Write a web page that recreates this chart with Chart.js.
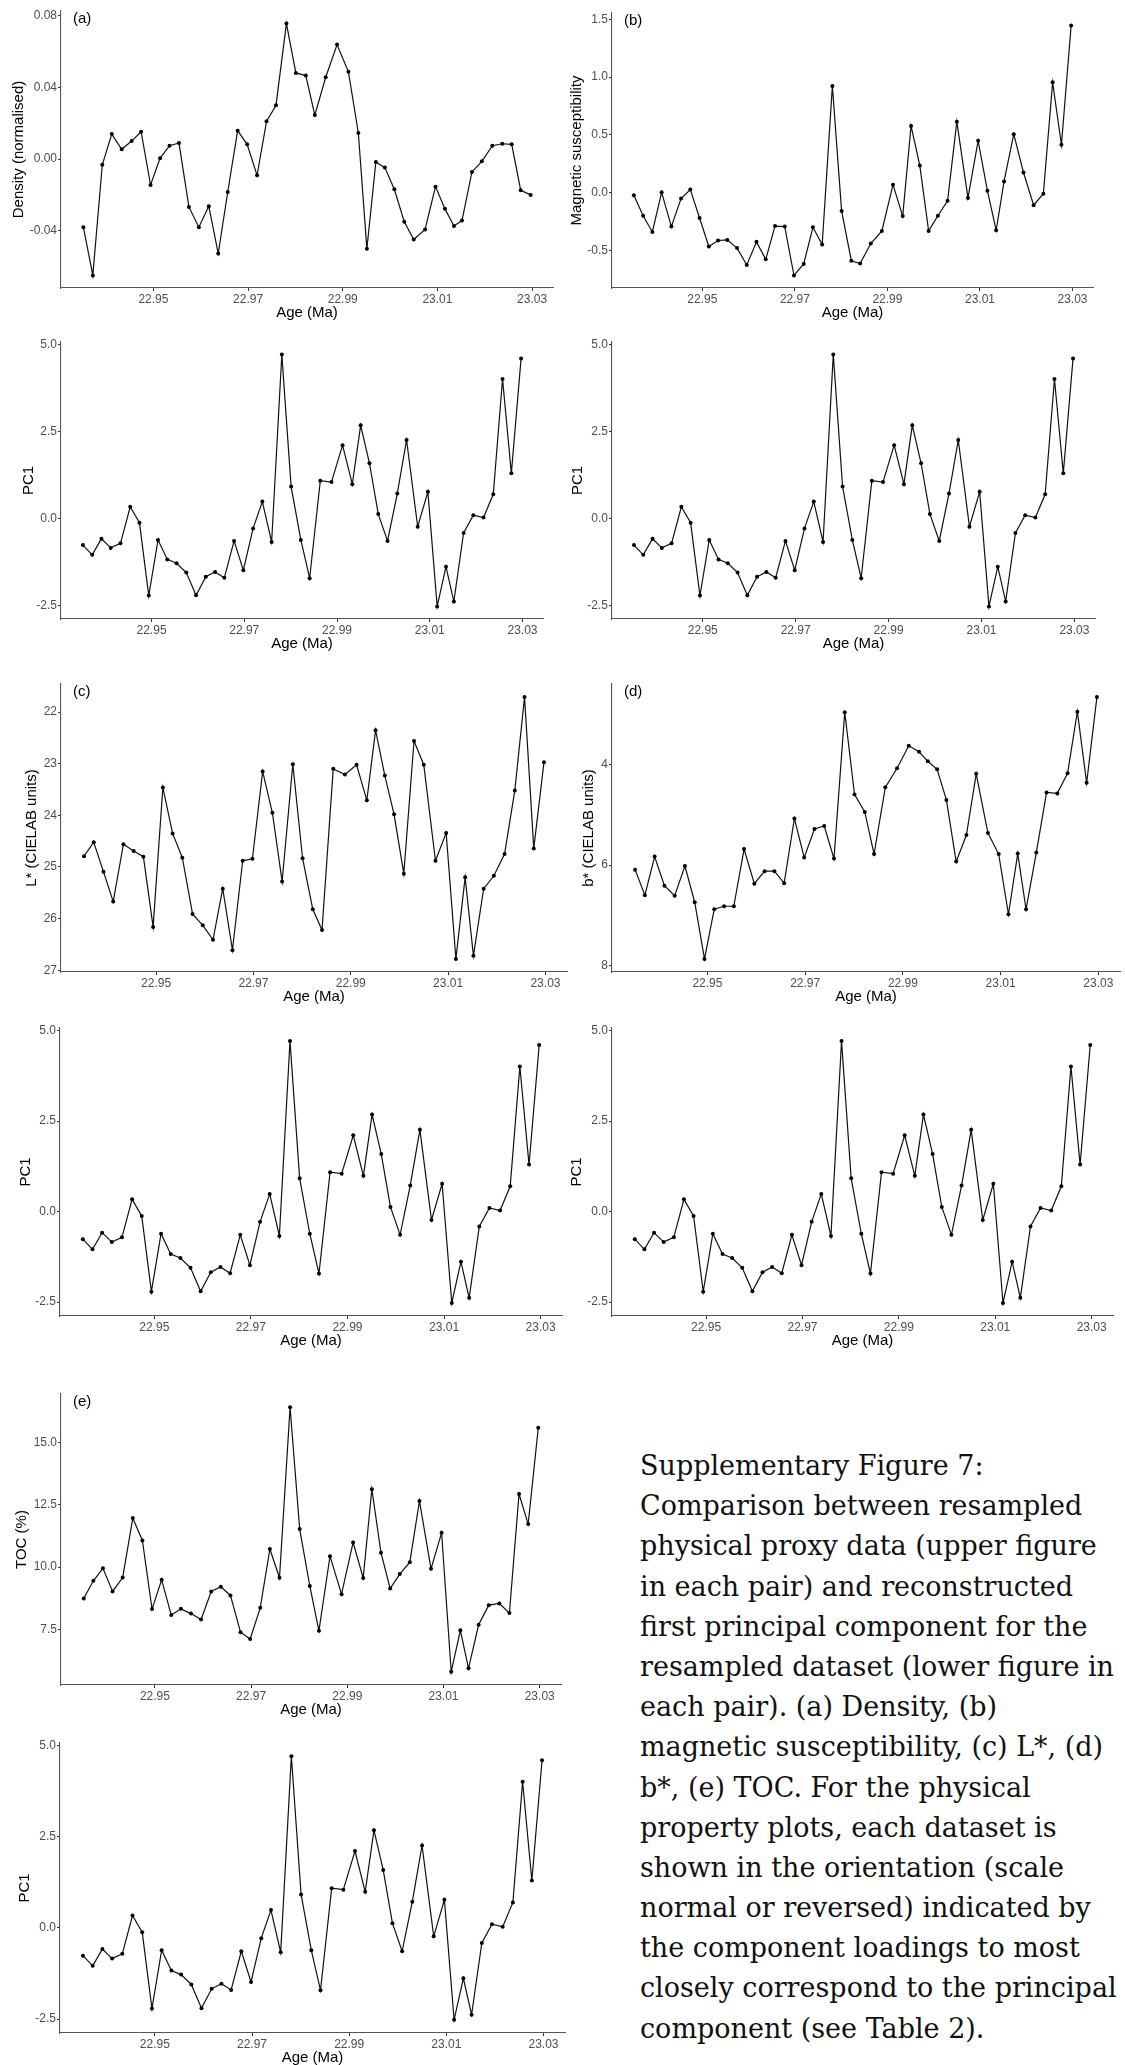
<!DOCTYPE html>
<html>
<head>
<meta charset="utf-8">
<script src="https://cdn.jsdelivr.net/npm/chart.js@4/dist/chart.umd.min.js"></script>
<style>
  html, body { margin: 0; padding: 0; background: #fff; width: 1125px; height: 2065px; overflow: hidden; position: relative; }
  canvas { position: absolute; }
  #caption { position: absolute; left: 640px; top: 1446px; font-family: 'DejaVu Serif', serif; font-size: 27px; line-height: 40.2px; color: #111; white-space: nowrap; }
  #caption div { height: 40.2px; }
</style>
</head>
<body>
<div id="caption">
  <div>Supplementary Figure 7:</div>
  <div>Comparison between resampled</div>
  <div>physical proxy data (upper figure</div>
  <div>in each pair) and reconstructed</div>
  <div>first principal component for the</div>
  <div>resampled dataset (lower figure in</div>
  <div>each pair). (a) Density, (b)</div>
  <div>magnetic susceptibility, (c) L*, (d)</div>
  <div>b*, (e) TOC. For the physical</div>
  <div>property plots, each dataset is</div>
  <div>shown in the orientation (scale</div>
  <div>normal or reversed) indicated by</div>
  <div>the component loadings to most</div>
  <div>closely correspond to the principal</div>
  <div>component (see Table 2).</div>
</div>
<script>
// Sample ages (Ma)
const ages = [22.9352, 22.9372, 22.9392, 22.9412, 22.9433, 22.9454, 22.9474, 22.9494, 22.9514, 22.9534,
  22.9554, 22.9575, 22.9596, 22.9617, 22.9637, 22.9657, 22.9678, 22.9698, 22.9719, 22.9739,
  22.9759, 22.9781, 22.9801, 22.9822, 22.9841, 22.9864, 22.9888, 22.9912, 22.9933, 22.9951,
  22.9970, 22.9989, 23.0009, 23.0030, 23.0050, 23.0074, 23.0096, 23.0116, 23.0135, 23.0152,
  23.0173, 23.0194, 23.0216, 23.0237, 23.0257, 23.0276, 23.0297];

// (a) Density (normalised)
const density = [-0.0380, -0.0649, -0.0032, 0.0139, 0.0054, 0.0100, 0.0152, -0.0145, 0.0004, 0.0074,
  0.0089, -0.0267, -0.0380, -0.0263, -0.0527, -0.0184, 0.0158, 0.0082, -0.0091, 0.0210,
  0.0300, 0.0755, 0.0480, 0.0465, 0.0245, 0.0456, 0.0638, 0.0486, 0.0145, -0.0501,
  -0.0017, -0.0048, -0.0169, -0.0350, -0.0449, -0.0393, -0.0154, -0.0278, -0.0373, -0.0343,
  -0.0072, -0.0013, 0.0074, 0.0085, 0.0082, -0.0174, -0.0200];

// (b) Magnetic susceptibility
const magSus = [-0.023, -0.200, -0.340, 0.003, -0.294, -0.051, 0.026, -0.220, -0.466, -0.414,
  -0.409, -0.480, -0.626, -0.426, -0.577, -0.289, -0.294, -0.717, -0.617, -0.300,
  -0.449, 0.923, -0.160, -0.589, -0.614, -0.440, -0.331, 0.069, -0.203, 0.577,
  0.234, -0.331, -0.200, -0.071, 0.614, -0.046, 0.449, 0.017, -0.326, 0.097,
  0.506, 0.174, -0.109, -0.009, 0.954, 0.414, 1.446];

// (c) L* (CIELAB units)
const lightness = [24.79, 24.52, 25.09, 25.67, 24.56, 24.69, 24.80, 26.16, 23.46, 24.35,
  24.82, 25.91, 26.13, 26.41, 25.42, 26.61, 24.88, 24.84, 23.15, 23.95,
  25.28, 23.01, 24.83, 25.82, 26.22, 23.10, 23.21, 23.02, 23.71, 22.35,
  23.23, 23.98, 25.13, 22.56, 23.02, 24.88, 24.34, 26.78, 25.20, 26.72,
  25.42, 25.17, 24.75, 23.52, 21.71, 24.64, 22.97];

// (d) b* (CIELAB units)
const bStar = [6.09, 6.60, 5.83, 6.41, 6.61, 6.02, 6.74, 7.87, 6.88, 6.82,
  6.82, 5.68, 6.37, 6.12, 6.12, 6.36, 5.07, 5.85, 5.28, 5.22,
  5.87, 2.95, 4.59, 4.94, 5.78, 4.45, 4.07, 3.62, 3.74, 3.93,
  4.09, 4.70, 5.93, 5.40, 4.18, 5.36, 5.78, 6.98, 5.77, 6.88,
  5.75, 4.55, 4.57, 4.17, 2.94, 4.36, 2.65];

// (e) TOC (%)
const toc = [8.74, 9.45, 9.95, 9.02, 9.58, 11.97, 11.07, 8.31, 9.49, 8.07,
  8.32, 8.13, 7.89, 9.02, 9.21, 8.86, 7.38, 7.11, 8.36, 10.73,
  9.57, 16.43, 11.53, 9.24, 7.44, 10.44, 8.91, 10.99, 9.56, 13.13,
  10.58, 9.14, 9.72, 10.20, 12.66, 9.93, 11.38, 5.79, 7.46, 5.93,
  7.68, 8.47, 8.54, 8.15, 12.94, 11.73, 15.60];

// First principal component of the resampled dataset
const pc1 = [-0.76, -1.04, -0.58, -0.84, -0.71, 0.34, -0.12, -2.21, -0.61, -1.17,
  -1.28, -1.55, -2.20, -1.67, -1.53, -1.70, -0.64, -1.48, -0.28, 0.49,
  -0.67, 4.71, 0.92, -0.61, -1.71, 1.09, 1.05, 2.11, 0.99, 2.68,
  1.59, 0.13, -0.64, 0.72, 2.26, -0.23, 0.77, -2.52, -1.38, -2.38,
  -0.41, 0.10, 0.03, 0.70, 4.01, 1.30, 4.60];

// Tick values
const ageTicks = [22.95, 22.97, 22.99, 23.01, 23.03];
const densityTicks = [-0.04, 0, 0.04, 0.08];
const magSusTicks = [-0.5, 0, 0.5, 1.0, 1.5];
const lightnessTicks = [22, 23, 24, 25, 26, 27];
const bStarTicks = [4, 6, 8];
const tocTicks = [7.5, 10, 12.5, 15];
const pc1Ticks = [-2.5, 0, 2.5, 5.0];

// Panel layout: plot-area edges on the page (left, right, top, bottom),
// left edge of the column and the centre of the rotated y title.
const panels = [
  { y: density,   ticks: densityTicks,   dec: 2, title: 'Density (normalised)',   tag: '(a)', rev: false, L: 61,  R: 553,  T: 11,   B: 288,  col: 0,   titleX: 18.6 },
  { y: magSus,    ticks: magSusTicks,    dec: 1, title: 'Magnetic susceptibility', tag: '(b)', rev: false, L: 612, R: 1093, T: 13,   B: 288,  col: 560, titleX: 577.3 },
  { y: pc1,       ticks: pc1Ticks,       dec: 1, title: 'PC1',                    tag: '',    rev: false, L: 61,  R: 543,  T: 342,  B: 619,  col: 0,   titleX: 28.6 },
  { y: pc1,       ticks: pc1Ticks,       dec: 1, title: 'PC1',                    tag: '',    rev: false, L: 612, R: 1095, T: 342,  B: 619,  col: 560, titleX: 578 },
  { y: lightness, ticks: lightnessTicks, dec: 0, title: 'L* (CIELAB units)',      tag: '(c)', rev: true,  L: 61,  R: 567,  T: 684,  B: 972,  col: 0,   titleX: 32.1 },
  { y: bStar,     ticks: bStarTicks,     dec: 0, title: 'b* (CIELAB units)',      tag: '(d)', rev: true,  L: 612, R: 1120, T: 684,  B: 972,  col: 560, titleX: 588.8 },
  { y: pc1,       ticks: pc1Ticks,       dec: 1, title: 'PC1',                    tag: '',    rev: false, L: 60,  R: 562,  T: 1028, B: 1316, col: 0,   titleX: 25.7 },
  { y: pc1,       ticks: pc1Ticks,       dec: 1, title: 'PC1',                    tag: '',    rev: false, L: 612, R: 1113, T: 1028, B: 1316, col: 560, titleX: 577.3 },
  { y: toc,       ticks: tocTicks,       dec: 1, title: 'TOC (%)',                tag: '(e)', rev: false, L: 61,  R: 561,  T: 1394, B: 1685, col: 0,   titleX: 21.4 },
  { y: pc1,       ticks: pc1Ticks,       dec: 1, title: 'PC1',                    tag: '',    rev: false, L: 60,  R: 565,  T: 1743, B: 2033, col: 0,   titleX: 25 }
];

const PAD_TOP = 8, PAD_RIGHT = 12, X_BOX = 40;
const FONT = "'Liberation Sans', Arial, sans-serif";
const TICK_COLOR = '#4d4d4d';
const AXIS_COLOR = '#555';

// ggplot-style range: data extent widened by 5% on each side
function expanded(arr) {
  const lo = Math.min(...arr), hi = Math.max(...arr);
  const pad = (hi - lo) * 0.05;
  return { min: lo - pad, max: hi + pad };
}

const panelTag = {
  id: 'panelTag',
  afterDraw(chart, args, opts) {
    if (!opts.text) return;
    const { ctx, chartArea } = chart;
    ctx.save();
    ctx.font = '15px ' + FONT;
    ctx.fillStyle = '#000';
    ctx.textBaseline = 'middle';
    ctx.textAlign = 'left';
    ctx.fillText(opts.text, chartArea.left + 12, chartArea.top + 7.5);
    ctx.restore();
  }
};

const xr = expanded(ages);

panels.forEach(p => {
  const yw = p.L - p.col;
  const canvas = document.createElement('canvas');
  const w = p.R - p.col + PAD_RIGHT;
  const h = p.B - p.T + PAD_TOP + X_BOX;
  canvas.style.left = p.col + 'px';
  canvas.style.top = (p.T - PAD_TOP) + 'px';
  canvas.style.width = w + 'px';
  canvas.style.height = h + 'px';
  canvas.width = w; canvas.height = h;
  document.body.appendChild(canvas);

  const yr = expanded(p.y);
  const points = ages.map((a, i) => ({ x: a, y: p.y[i] }));

  new Chart(canvas, {
    type: 'line',
    data: {
      datasets: [{
        data: points,
        borderColor: '#111',
        borderWidth: 1.2,
        pointRadius: 2,
        pointBackgroundColor: '#000',
        pointBorderWidth: 0,
        tension: 0,
        fill: false
      }]
    },
    options: {
      responsive: false,
      animation: false,
      devicePixelRatio: 1,
      layout: { padding: { top: PAD_TOP, right: PAD_RIGHT, left: 0, bottom: 0 } },
      plugins: {
        legend: { display: false },
        tooltip: { enabled: false },
        panelTag: { text: p.tag }
      },
      scales: {
        x: {
          type: 'linear',
          min: xr.min,
          max: xr.max,
          afterBuildTicks: s => { s.ticks = ageTicks.map(v => ({ value: v })); },
          afterFit: s => { s.height = X_BOX; s.paddingLeft = 0; s.paddingRight = 0; },
          grid: { display: true, drawOnChartArea: false, drawTicks: true, tickLength: 3, color: '#333', lineWidth: 1 },
          border: { display: true, color: AXIS_COLOR, width: 1.1 },
          ticks: {
            autoSkip: false, maxRotation: 0, padding: 1,
            color: TICK_COLOR, font: { family: FONT, size: 12 },
            callback: v => v.toFixed(2)
          },
          title: {
            display: true, text: 'Age (Ma)', color: '#000',
            font: { family: FONT, size: 15 },
            padding: { top: 0, bottom: X_BOX - 25 - 9 }
          }
        },
        y: {
          type: 'linear',
          min: yr.min,
          max: yr.max,
          reverse: p.rev,
          afterBuildTicks: s => { s.ticks = p.ticks.map(v => ({ value: v })); },
          afterFit: s => { s.width = yw; s.paddingTop = 0; s.paddingBottom = 0; },
          grid: { display: true, drawOnChartArea: false, drawTicks: true, tickLength: 3, color: '#333', lineWidth: 1 },
          border: { display: true, color: AXIS_COLOR, width: 1.1 },
          ticks: {
            autoSkip: false, padding: 1,
            color: TICK_COLOR, font: { family: FONT, size: 12 },
            callback: v => v.toFixed(p.dec)
          },
          title: {
            display: true, text: p.title, color: '#000',
            font: { family: FONT, size: 15 },
            padding: { top: p.titleX - p.col - 9, bottom: 0 }
          }
        }
      }
    },
    plugins: [panelTag]
  });
});
</script>
</body>
</html>
